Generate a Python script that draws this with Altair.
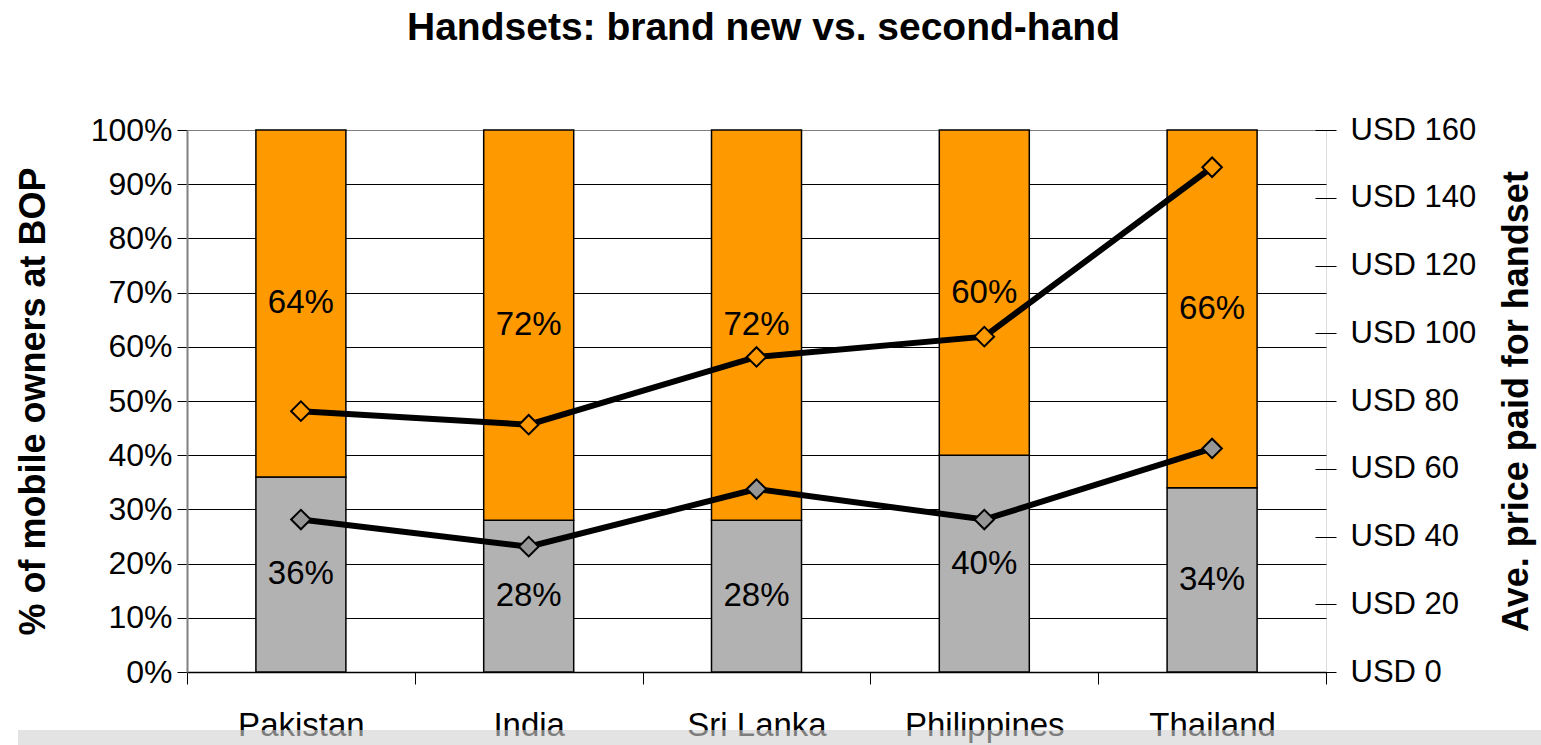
import altair as alt
import pandas as pd

# ---- data ----
countries = ["Pakistan", "India", "Sri Lanka", "Philippines", "Thailand"]
second_hand_share = [0.36, 0.28, 0.28, 0.40, 0.34]
brand_new_share = [0.64, 0.72, 0.72, 0.60, 0.66]
price_brand_new = [77, 73, 93, 99, 149]
price_second_hand = [45, 37, 54, 45, 66]
share_ticks = [0, 0.1, 0.2, 0.3, 0.4, 0.5, 0.6, 0.7, 0.8, 0.9, 1.0]
price_ticks = [0, 20, 40, 60, 80, 100, 120, 140, 160]

ORANGE = "#FF9900"
GREY = "#B2B2B2"
DIAMOND_GREY = "#969696"
FONT = "Liberation Sans"

share_rows = []
for c, s, n in zip(countries, second_hand_share, brand_new_share):
    share_rows.append({"country": c, "kind": "Second-hand", "order": 0, "share": s})
    share_rows.append({"country": c, "kind": "Brand new", "order": 1, "share": n})
share_df = pd.DataFrame(share_rows)

price_rows = []
for c, pn, ps in zip(countries, price_brand_new, price_second_hand):
    price_rows.append({"country": c, "series": "Brand new", "price": pn})
    price_rows.append({"country": c, "series": "Second-hand", "price": ps})
price_df = pd.DataFrame(price_rows)

x_enc = alt.X(
    "country:N",
    sort=countries,
    scale=alt.Scale(paddingInner=0, paddingOuter=0),
    axis=alt.Axis(
        title=None,
        tickBand="extent",
        tickSize=12,
        tickColor="black",
        domainColor="black",
        domainWidth=1.5,
        labelFont=FONT,
        labelFontSize=33,
        labelColor="black",
        labelAngle=0,
        labelPadding=25,
        labelBaseline="top",
        zindex=0,
    ),
)

stacked = alt.Chart(share_df).transform_stack(
    stack="share", as_=["y0", "y1"], groupby=["country"], sort=[alt.SortField("order")]
).transform_calculate(mid="(datum.y0 + datum.y1) / 2")

left_axis = alt.Axis(
    title="% of mobile owners at BOP",
    titleFont=FONT,
    titleFontSize=36,
    titleFontWeight="bold",
    titleColor="black",
    titlePadding=38,
    values=share_ticks,
    format=".0%",
    labelFont=FONT,
    labelFontSize=32,
    labelColor="black",
    labelPadding=5,
    tickSize=10,
    tickColor="black",
    domainColor="#808080",
    domainWidth=2,
    grid=True,
    gridColor={"condition": {"test": "datum.value === 1", "value": "#808080"}, "value": "black"},
    gridWidth=1,
    orient="left",
)

bars = stacked.mark_bar(size=90, stroke="black", strokeWidth=1.5).encode(
    x=x_enc,
    y=alt.Y("y0:Q", scale=alt.Scale(domain=[0, 1], nice=False), axis=left_axis),
    y2="y1:Q",
    color=alt.Color("kind:N", scale=alt.Scale(domain=["Second-hand", "Brand new"], range=[GREY, ORANGE]), legend=None),
)

labels = stacked.mark_text(font=FONT, fontSize=33, color="black", baseline="middle").encode(
    x=alt.X("country:N", sort=countries),
    y=alt.Y("mid:Q"),
    text=alt.Text("share:Q", format=".0%"),
)

left = alt.layer(bars, labels)

right_axis = alt.Axis(
    title="Ave. price paid for handset",
    titleFont=FONT,
    titleFontSize=36,
    titleFontWeight="bold",
    titleColor="black",
    titleAngle=270,
    titlePadding=60,
    values=price_ticks,
    labelExpr="'USD ' + datum.value",
    labelFont=FONT,
    labelFontSize=31,
    labelColor="black",
    labelPadding=14,
    tickSize=21,
    tickColor="black",
    domain=False,
    offset=-11,
    grid=False,
    orient="right",
)

price_y = alt.Y("price:Q", scale=alt.Scale(domain=[0, 160], nice=False), axis=right_axis)

lines = alt.Chart(price_df).mark_line(color="black", strokeWidth=6).encode(
    x=alt.X("country:N", sort=countries),
    y=price_y,
    detail="series:N",
)

points = alt.Chart(price_df).mark_point(
    shape="diamond", filled=True, size=380, stroke="black", strokeWidth=2, opacity=1
).encode(
    x=alt.X("country:N", sort=countries),
    y=alt.Y("price:Q"),
    fill=alt.Fill("series:N", scale=alt.Scale(domain=["Brand new", "Second-hand"], range=[ORANGE, DIAMOND_GREY]), legend=None),
)

right = alt.layer(lines, points)

band = alt.Chart(pd.DataFrame({"a": [0]})).mark_rect(color="#D0D0D0", opacity=0.6).encode(
    x=alt.value(-169), x2=alt.value(1354), y=alt.value(600), y2=alt.value(616)
)

chart = alt.layer(left, right, band).resolve_scale(y="independent", color="independent").properties(
    width=1139,
    height=542,
    autosize=alt.AutoSizeParams(type="none"),
    padding={"left": 187, "top": 130, "right": 215, "bottom": 73},
    title=alt.TitleParams(
        "Handsets: brand new vs. second-hand",
        font=FONT,
        fontSize=39,
        fontWeight="bold",
        color="black",
        anchor="middle",
        frame="group",
        baseline="alphabetic",
        offset=35,
        dx=7,
    ),
).configure_view(stroke="#808080", strokeWidth=2).configure(background="white")

chart.save("out.html", embed_options={"renderer": "svg", "actions": False})
